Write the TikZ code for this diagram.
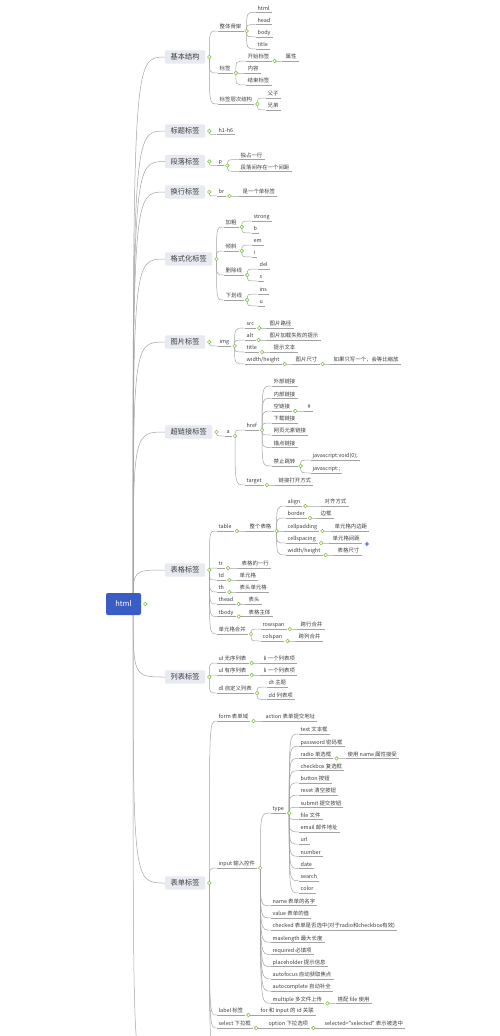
\documentclass[tikz,border=0pt]{standalone}
\usepackage{fontspec}
\setmainfont{Noto Sans CJK SC}[Ligatures=TeXOff]
\usetikzlibrary{positioning}
\pgfdeclarelayer{bg}
\pgfsetlayers{bg,main}
\definecolor{rootblue}{HTML}{3A5CC5}
\definecolor{catfill}{HTML}{E8EAF2}
\definecolor{wiregray}{HTML}{A3A3A3}
\definecolor{dotgreen}{HTML}{8CC152}
\definecolor{txt}{HTML}{3C3C3C}

\tikzset{
  root/.style={fill=rootblue, text=white, rounded corners=2pt, minimum width=35pt, minimum height=22pt, font=\fontsize{7.5}{8}\selectfont},
  cat/.style={anchor=west, fill=catfill, text=txt, rounded corners=1pt, minimum height=13pt, inner xsep=5.5pt, font=\fontsize{7.2}{8}\selectfont},
  leaf/.style={anchor=west, text=txt, inner xsep=2pt, inner ysep=1pt, text height=4.6pt, text depth=1pt, font=\fontsize{5.4}{6}\selectfont,
    append after command={(\tikzlastnode.south west) edge[wire] (\tikzlastnode.south east)}},
  dot/.style={circle, draw=dotgreen, fill=white, line width=0.6pt, minimum size=3.6pt, inner sep=0pt},
  wire/.style={draw=wiregray, line width=0.5pt},
  branch/.style={wire, to path={.. controls (\tikztostart|-\tikztotarget) .. (\tikztotarget)}},
}

\begin{document}
\begin{tikzpicture}[x=1pt, y=-1pt]
\useasboundingbox (0,0) rectangle (500,1036);

% === ROOT ===
\node[root] (html) at (123.5,604) {html};
\node[dot, right=2pt of html] (html-d) {};
\coordinate (hub) at (133,604);
\coordinate (hub-more) at (146,1060);

% === CATEGORIES ===
\foreach \n/\lab/\y in {struct/基本结构/57, htitle/标题标签/131, para/段落标签/161.5, brk/换行标签/192, fmt/格式化标签/259, pic/图片标签/342, link/超链接标签/432, tbl/表格标签/570, list/列表标签/677, form/表单标签/883}{
  \node[cat] (\n) at (165,\y) {\lab};
  \node[dot, right=2pt of \n] (\n-d) {};
}
\begin{pgfonlayer}{bg}
  \foreach \n in {struct,htitle,para,brk,fmt,pic,link,tbl,list,form}
    \draw[branch] (hub) to (\n.west);
  \draw[branch] (hub) to (hub-more);
\end{pgfonlayer}

% === BASIC STRUCTURE ===
\node[leaf] (skel) at (217.5,27) {整体骨架};
\node[dot, right=1pt of skel.south east] (skel-d) {};
\foreach \lab/\y [count=\i] in {html/8.3, head/20.6, body/32.8, title/45}
  \node[leaf] (skel\i) at (255.5,\y) {\lab};
\node[leaf] (tag) at (217.5,69) {标签};
\node[dot, right=1pt of tag.south east] (tag-d) {};
\foreach \lab/\y [count=\i] in {开始标签/57, 内容/69, 结束标签/81}
  \node[leaf] (tag\i) at (245.5,\y) {\lab};
\node[dot, right=1pt of tag1.south east] (tag1-d) {};
\node[leaf] (tag1-v) at (283.5,57) {属性};
\node[leaf] (nest) at (217.5,100) {标签层次结构};
\node[dot, right=1pt of nest.south east] (nest-d) {};
\node[leaf] (nest1) at (265.5,94) {父子};
\node[leaf] (nest2) at (265.5,106) {兄弟};
\begin{pgfonlayer}{bg}
  \foreach \m in {skel,tag,nest} \draw[branch] (struct-d.center) to (\m.south west);
  \foreach \i in {1,...,4} \draw[branch] (skel-d.center) to (skel\i.south west);
  \foreach \i in {1,2,3} \draw[branch] (tag-d.center) to (tag\i.south west);
  \draw[branch] (tag1-d.center) to (tag1-v.south west);
  \foreach \i in {1,2} \draw[branch] (nest-d.center) to (nest\i.south west);
\end{pgfonlayer}

% === HEADINGS, PARAGRAPH, BREAK ===
\node[leaf] (h16) at (216.5,130.5) {h1-h6};
\node[leaf] (p) at (216.5,161.5) {p};
\node[dot, right=1pt of p.south east] (p-d) {};
\node[leaf] (p1) at (238.5,155.5) {独占一行};
\node[leaf] (p2) at (238.5,167.5) {段落间存在一个间距};
\node[leaf] (br) at (216.5,192) {br};
\node[dot, right=1pt of br.south east] (br-d) {};
\node[leaf] (br1) at (240.5,192) {是一个单标签};
\begin{pgfonlayer}{bg}
  \draw[branch] (htitle-d.center) to (h16.south west);
  \draw[branch] (para-d.center) to (p.south west);
  \draw[branch] (p-d.center) to (p1.south west);
  \draw[branch] (p-d.center) to (p2.south west);
  \draw[branch] (brk-d.center) to (br.south west);
  \draw[branch] (br-d.center) to (br1.south west);
\end{pgfonlayer}

% === FORMATTING ===
\foreach \lab/\y/\x/\sa/\sb [count=\i] in {加粗/223/251.5/strong/b, 倾斜/247/251.5/em/i, 删除线/271/257.5/del/s, 下划线/296/257.5/ins/u}{
  \node[leaf] (fmt\i) at (223.5,\y) {\lab};
  \node[dot, right=1pt of fmt\i.south east] (fmt\i-d) {};
  \node[leaf] (fmt\i-a) at (\x,\y-6) {\sa};
  \node[leaf] (fmt\i-b) at (\x,\y+6) {\sb};
}
\begin{pgfonlayer}{bg}
  \foreach \i in {1,...,4}{
    \draw[branch] (fmt-d.center) to (fmt\i.south west);
    \draw[branch] (fmt\i-d.center) to (fmt\i-a.south west);
    \draw[branch] (fmt\i-d.center) to (fmt\i-b.south west);
  }
\end{pgfonlayer}

% === IMAGE ===
\node[leaf] (img) at (217.5,342) {img};
\node[dot, right=1pt of img.south east] (img-d) {};
\foreach \sa/\sb/\y/\x [count=\i] in {src/图片路径/324/267.5, alt/图片加载失败的提示/336/267.5, title/提示文本/348/271.5, {width/height}/图片尺寸/360/293.5}{
  \node[leaf] (img\i) at (244.5,\y) {\sa};
  \node[dot, right=1pt of img\i.south east] (img\i-d) {};
  \node[leaf] (img\i-v) at (\x,\y) {\sb};
}
\node[dot, right=1pt of img4-v.south east] (img4-vd) {};
\node[leaf] (ratio) at (331.5,360) {如果只写一个，会等比缩放};
\begin{pgfonlayer}{bg}
  \draw[branch] (pic-d.center) to (img.south west);
  \foreach \i in {1,...,4}{
    \draw[branch] (img-d.center) to (img\i.south west);
    \draw[branch] (img\i-d.center) to (img\i-v.south west);
  }
  \draw[branch] (img4-vd.center) to (ratio.south west);
\end{pgfonlayer}

% === HYPERLINK ===
\node[leaf] (a) at (224.5,432) {a};
\node[dot, right=1pt of a.south east] (a-d) {};
\node[leaf] (href) at (244.5,426) {href};
\node[dot, right=1pt of href.south east] (href-d) {};
\foreach \lab/\y [count=\i] in {外部链接/382, 内部链接/394.3, 空链接/407, 下载链接/419, 网页元素链接/431, 锚点链接/443.5, 禁止跳转/462}
  \node[leaf] (href\i) at (271.5,\y) {\lab};
\node[dot, right=1pt of href3.south east] (href3-d) {};
\node[leaf] (hash) at (305.5,407) {\#};
\node[dot, right=1pt of href7.south east] (href7-d) {};
\node[leaf] (void) at (310.5,456) {javascript:void(0);};
\node[leaf] (semi) at (310.5,469) {javascript:;};
\node[leaf] (target) at (244.5,481) {target};
\node[dot, right=1pt of target.south east] (target-d) {};
\node[leaf] (open) at (276.5,481) {链接打开方式};
\begin{pgfonlayer}{bg}
  \draw[branch] (link-d.center) to (a.south west);
  \draw[branch] (a-d.center) to (href.south west);
  \draw[branch] (a-d.center) to (target.south west);
  \foreach \i in {1,...,7} \draw[branch] (href-d.center) to (href\i.south west);
  \draw[branch] (href3-d.center) to (hash.south west);
  \draw[branch] (href7-d.center) to (void.south west);
  \draw[branch] (href7-d.center) to (semi.south west);
  \draw[branch] (target-d.center) to (open.south west);
\end{pgfonlayer}

% === TABLE ===
\node[leaf] (table) at (216.5,527) {table};
\node[dot, right=1pt of table.south east] (table-d) {};
\node[leaf] (whole) at (247.5,527) {整个表格};
\node[dot, right=1pt of whole.south east] (whole-d) {};
\foreach \sa/\sb/\y/\x [count=\i] in {align/对齐方式/502/322.5, border/边框/514/318.5, cellpadding/单元格内边距/527/332.5, cellspacing/单元格间距/539/330.5, {width/height}/表格尺寸/551/335.5}{
  \node[leaf] (tab\i) at (285.5,\y) {\sa};
  \node[dot, right=1pt of tab\i.south east] (tab\i-d) {};
  \node[leaf] (tab\i-v) at (\x,\y) {\sb};
}
\node[font=\bfseries\fontsize{8}{8}\selectfont, text=rootblue, inner sep=0pt] (expand) at (367,545) {+};
\foreach \sa/\sb/\y/\x [count=\i] in {tr/表格的一行/564/239.5, td/单元格/576/237.5, th/表头单元格/588/237.5, thead/表头/600/246.5, tbody/表格主体/612.5/246.5}{
  \node[leaf] (row\i) at (216.5,\y) {\sa};
  \node[dot, right=1pt of row\i.south east] (row\i-d) {};
  \node[leaf] (row\i-v) at (\x,\y) {\sb};
}
\node[leaf] (merge) at (216.5,630) {单元格合并};
\node[dot, right=1pt of merge.south east] (merge-d) {};
\foreach \sa/\sb/\y/\x [count=\i] in {rowspan/跨行合并/625/298.5, colspan/跨列合并/637/296.5}{
  \node[leaf] (span\i) at (260.5,\y) {\sa};
  \node[dot, right=1pt of span\i.south east] (span\i-d) {};
  \node[leaf] (span\i-v) at (\x,\y) {\sb};
}
\begin{pgfonlayer}{bg}
  \draw[branch] (tbl-d.center) to (table.south west);
  \draw[branch] (table-d.center) to (whole.south west);
  \foreach \i in {1,...,5}{
    \draw[branch] (whole-d.center) to (tab\i.south west);
    \draw[branch] (tab\i-d.center) to (tab\i-v.south west);
    \draw[branch] (tbl-d.center) to (row\i.south west);
    \draw[branch] (row\i-d.center) to (row\i-v.south west);
  }
  \draw[branch] (tbl-d.center) to (merge.south west);
  \foreach \i in {1,2}{
    \draw[branch] (merge-d.center) to (span\i.south west);
    \draw[branch] (span\i-d.center) to (span\i-v.south west);
  }
\end{pgfonlayer}

% === LIST ===
\foreach \sa/\sb/\y [count=\i] in {ul 无序列表/li 一个列表项/659, ul 有序列表/li 一个列表项/671}{
  \node[leaf] (li\i) at (216.5,\y) {\sa};
  \node[dot, right=1pt of li\i.south east] (li\i-d) {};
  \node[leaf] (li\i-v) at (261.5,\y) {\sb};
}
\node[leaf] (dl) at (216.5,689) {dl 自定义列表};
\node[dot, right=1pt of dl.south east] (dl-d) {};
\node[leaf] (dt) at (266.5,683) {dt 主题};
\node[leaf] (dd) at (266.5,695.5) {dd 列表项};
\begin{pgfonlayer}{bg}
  \foreach \i in {1,2}{
    \draw[branch] (list-d.center) to (li\i.south west);
    \draw[branch] (li\i-d.center) to (li\i-v.south west);
  }
  \draw[branch] (list-d.center) to (dl.south west);
  \draw[branch] (dl-d.center) to (dt.south west);
  \draw[branch] (dl-d.center) to (dd.south west);
\end{pgfonlayer}

% === FORM ===
\node[leaf] (fm) at (216.5,717) {form 表单域};
\node[dot, right=1pt of fm.south east] (fm-d) {};
\node[leaf] (action) at (263.5,717) {action 表单提交地址};
\node[leaf] (input) at (216.5,864) {input 输入控件};
\node[dot, right=1pt of input.south east] (input-d) {};
\node[leaf] (type) at (270.5,809) {type};
\node[dot, right=1pt of type.south east] (type-d) {};
\foreach \lab [count=\i] in {text 文本框, password 密码框, radio 单选框, checkbox 复选框, button 按钮, reset 清空按钮, submit 提交按钮, file 文件, email 邮件地址, url, number, date, search, color}
  \node[leaf] (type\i) at (298.5,{730+12.23*(\i-1)}) {\lab};
\node[dot, right=1pt of type3.south east] (type3-d) {};
\node[leaf] (radio) at (345.5,754.5) {使用 name 属性接受};
\foreach \lab [count=\i] in {name 表单的名字, value 表单的值, checked 表单是否选中(对于radio和checkbox有效), maxlength 最大长度, required 必填项, placeholder 提示信息, autofocus 自动获取焦点, autocomplete 自动补全, multiple 多文件上传}
  \node[leaf] (inp\i) at (270.5,{901.7+12.2*(\i-1)}) {\lab};
\node[dot, right=1pt of inp9.south east] (inp9-d) {};
\node[leaf] (multi) at (335.5,999.3) {搭配 file 使用};
\node[leaf] (label) at (216.5,1011) {label 标签};
\node[dot, right=1pt of label.south east] (label-d) {};
\node[leaf] (forid) at (258.5,1011) {for 和 input 的 id 关联};
\node[leaf] (select) at (216.5,1024) {select 下拉框};
\node[dot, right=1pt of select.south east] (select-d) {};
\node[leaf] (option) at (266.5,1024) {option 下拉选项};
\node[dot, right=1pt of option.south east] (option-d) {};
\node[leaf] (selected) at (322.5,1024) {selected="selected" 表示被选中};
\coordinate (form-more) at (217,1050);
\begin{pgfonlayer}{bg}
  \foreach \m in {fm,input,label,select,form-more} \draw[branch] (form-d.center) to (\m.south west);
  \draw[branch] (fm-d.center) to (action.south west);
  \draw[branch] (input-d.center) to (type.south west);
  \foreach \i in {1,...,14} \draw[branch] (type-d.center) to (type\i.south west);
  \draw[branch] (type3-d.center) to (radio.south west);
  \foreach \i in {1,...,9} \draw[branch] (input-d.center) to (inp\i.south west);
  \draw[branch] (inp9-d.center) to (multi.south west);
  \draw[branch] (label-d.center) to (forid.south west);
  \draw[branch] (select-d.center) to (option.south west);
  \draw[branch] (option-d.center) to (selected.south west);
\end{pgfonlayer}

\end{tikzpicture}
\end{document}
